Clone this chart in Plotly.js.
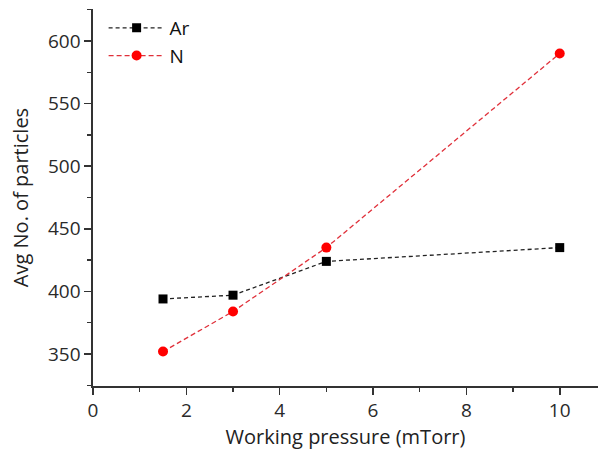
<!DOCTYPE html>
<html>
<head>
<meta charset="utf-8">
<script src="https://cdn.plot.ly/plotly-3.0.1.min.js"></script>
<style>html,body{margin:0;padding:0;background:#fff;}#chart{width:598px;height:450px;}</style>
</head>
<body>
<div id="chart"></div>
<script>
const pressure = [1.5, 3, 5, 10];
const arValues = [394, 397, 424, 435];
const nValues = [352, 384, 435, 590];
const seriesNames = ['Ar', 'N'];
const xTitle = 'Working pressure (mTorr)';
const yTitle = 'Avg No. of particles';

const font = '"Open Sans", "Liberation Sans", sans-serif';

const traces = [
  {
    x: pressure, y: arValues, name: seriesNames[0], type: 'scatter', mode: 'lines+markers',
    legendgroup: 'a',
    line: {color: '#222222', width: 1.3, dash: '4px,3px'},
    marker: {symbol: 'square', size: 9, color: '#000000'}
  },
  {
    x: pressure, y: nValues, name: seriesNames[1], type: 'scatter', mode: 'lines+markers',
    legendgroup: 'b',
    line: {color: '#e0303a', width: 1.3, dash: '5px,3px'},
    marker: {symbol: 'circle', size: 10, color: '#ff0000'}
  }
];

const layout = {
  width: 598, height: 450,
  margin: {l: 93, r: 0, t: 9, b: 64},
  paper_bgcolor: '#ffffff', plot_bgcolor: '#ffffff',
  font: {family: font, color: '#222222', size: 19},
  showlegend: true,
  legend: {x: 0.021, y: 1.0, xanchor: 'left', yanchor: 'top', bgcolor: 'rgba(0,0,0,0)',
           font: {family: font, size: 19, color: '#111111'}, traceorder: 'grouped',
           tracegroupgap: 0, itemwidth: 56},
  xaxis: {
    range: [0, 10.82], showgrid: false, zeroline: false,
    showline: true, linecolor: '#333333', linewidth: 1.6,
    ticks: 'outside', ticklen: 7, tickwidth: 1.6, tickcolor: '#333333',
    dtick: 2, tick0: 0,
    minor: {ticks: 'outside', ticklen: 4, tickwidth: 1.4, tickcolor: '#333333', dtick: 1},
    tickfont: {family: font, size: 19, color: '#2a2a2a'},
    title: {text: xTitle, font: {family: font, size: 20, color: '#222222'}, standoff: 10}
  },
  yaxis: {
    range: [324.5, 625.5], showgrid: false, zeroline: false,
    showline: true, linecolor: '#333333', linewidth: 1.6,
    ticks: 'outside', ticklen: 7, tickwidth: 1.6, tickcolor: '#333333',
    dtick: 50, tick0: 0,
    minor: {ticks: 'outside', ticklen: 4, tickwidth: 1.4, tickcolor: '#333333', dtick: 25},
    tickfont: {family: font, size: 19, color: '#2a2a2a'},
    title: {text: yTitle, font: {family: font, size: 20, color: '#222222'}, standoff: 14}
  }
};

Plotly.newPlot('chart', traces, layout, {displayModeBar: false, staticPlot: true});
</script>
</body>
</html>
